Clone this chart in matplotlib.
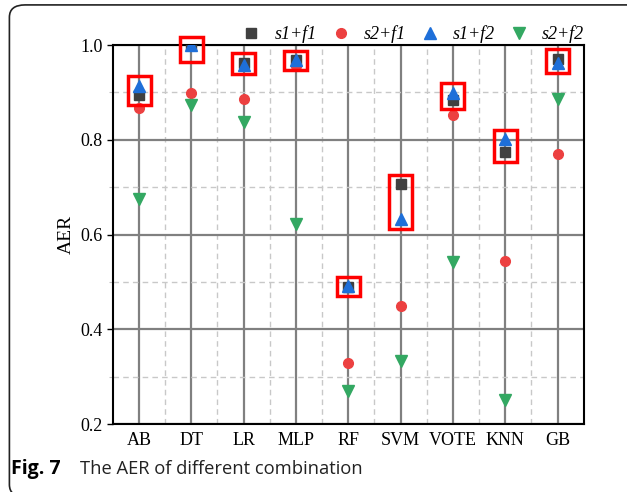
import numpy as np
import matplotlib
matplotlib.use("Agg")
import matplotlib.pyplot as plt
from matplotlib.patches import Rectangle, FancyBboxPatch

# -----
# data
# -----
models = ["AB", "DT", "LR", "MLP", "RF", "SVM", "VOTE", "KNN", "GB"]
s1_f1 = [0.894, 1.000, 0.963, 0.968, 0.490, 0.706, 0.885, 0.774, 0.971]
s2_f1 = [0.868, 0.898, 0.886, 0.956, 0.329, 0.449, 0.853, 0.544, 0.770]
s1_f2 = [0.914, 1.000, 0.958, 0.968, 0.491, 0.632, 0.899, 0.801, 0.961]
s2_f2 = [0.676, 0.874, 0.838, 0.622, 0.270, 0.334, 0.543, 0.251, 0.887]

plt.rcParams["font.family"] = ["Liberation Serif", "DejaVu Serif"]

fig = plt.figure(figsize=(6.27, 4.92), dpi=100)
ax = fig.add_axes([0.180, 0.138, 0.751, 0.7705])

x = np.arange(len(models))

ax.set_xlim(-0.5, len(models) - 0.5)
ax.set_ylim(0.2, 1.0)
ax.set_yticks([0.2, 0.4, 0.6, 0.8, 1.0])
ax.set_yticks([0.3, 0.5, 0.7, 0.9], minor=True)
ax.set_xticks(x)
ax.set_xticks(x[:-1] + 0.5, minor=True)
ax.set_xticklabels(models)

ax.grid(True, which="major", color="#808080", linewidth=1.6, zorder=0)
ax.grid(True, which="minor", color="#c8c8c8", linestyle=(0, (4, 3)), linewidth=1.0, zorder=0)
ax.set_axisbelow(True)

ax.tick_params(axis="both", which="major", labelsize=13, direction="out", length=4, width=1)
ax.tick_params(axis="y", which="minor", direction="out", length=3, width=0.8, color="#c0c0c0")
ax.tick_params(axis="x", which="both", length=0)
ax.tick_params(axis="x", which="major", pad=6)
for s in ax.spines.values():
    s.set_linewidth(1.5)
ax.set_ylabel("AER", fontsize=14)

ms = 7
ax.plot(x, s1_f1, "s", color="#404040", ms=ms, label="s1+f1", zorder=4)
ax.plot(x, s2_f1, "o", color="#ec4040", ms=ms, label="s2+f1", zorder=4)
ax.plot(x, s1_f2, "^", color="#1e6fd9", ms=ms + 1, label="s1+f2", zorder=5)
ax.plot(x, s2_f2, "v", color="#33a862", ms=ms + 1, label="s2+f2", zorder=4)

# red boxes around the s1 pair
for xi, a, b in zip(x, s1_f1, s1_f2):
    lo = min(a, b) - (0.035 if max(a, b) >= 1.0 else 0.02)
    hi = max(a, b) + (0.016 if max(a, b) >= 1.0 else 0.02)
    ax.add_patch(Rectangle((xi - 0.22, lo), 0.44, hi - lo, fill=False,
                           edgecolor="#ff0000", linewidth=2.5, zorder=6, clip_on=False))

leg = ax.legend(loc="lower right", bbox_to_anchor=(1.005, 1.0), ncol=4, frameon=False,
                prop={"style": "italic", "size": 13}, handletextpad=0.7,
                columnspacing=0.7, borderaxespad=0, borderpad=0.1, handlelength=1.2)

# outer card frame and caption
fig.patches.append(FancyBboxPatch((0.015, -0.01), 1.2, 1.0,
                                  boxstyle="round,pad=0,rounding_size=0.025",
                                  transform=fig.transFigure, fill=False,
                                  edgecolor="#222222", linewidth=1.2))
fig.text(0.017, 0.036, "Fig. 7", family="Open Sans", weight="bold", fontsize=14)
fig.text(0.128, 0.036, "The AER of different combination", family="Open Sans",
         fontsize=13.2, color="#222222")

fig.savefig("out.png", dpi=100)
